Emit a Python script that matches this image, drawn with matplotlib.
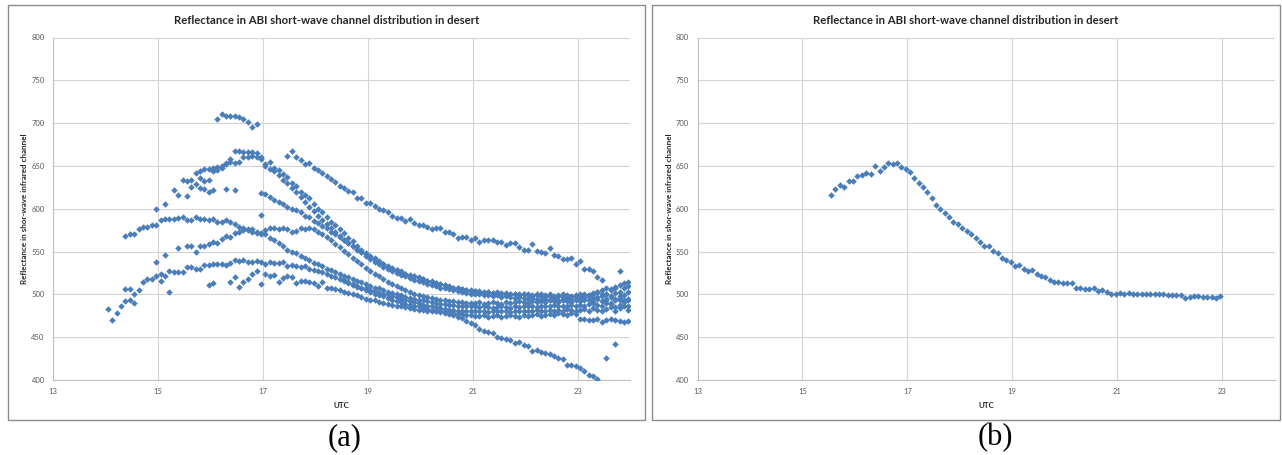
import numpy as np
import matplotlib
matplotlib.use("Agg")
import matplotlib.pyplot as plt
from matplotlib.patches import Rectangle

# ---------------- data ----------------
# UTC sampling times (hours)
utc = [
    14.05, 14.13, 14.22, 14.30, 14.38, 14.47, 14.55, 14.63, 14.72, 14.80, 14.88, 14.97,
    15.05, 15.13, 15.22, 15.30, 15.38, 15.47, 15.55, 15.63, 15.72, 15.80, 15.88, 15.97,
    16.05, 16.13, 16.22, 16.30, 16.38, 16.47, 16.55, 16.63, 16.72, 16.80, 16.88, 16.97,
    17.05, 17.13, 17.22, 17.30, 17.38, 17.47, 17.55, 17.63, 17.72, 17.80, 17.88, 17.97,
    18.05, 18.13, 18.22, 18.30, 18.38, 18.47, 18.55, 18.63, 18.72, 18.80, 18.88, 18.97,
    19.05, 19.13, 19.22, 19.30, 19.38, 19.47, 19.55, 19.63, 19.72, 19.80, 19.88, 19.97,
    20.05, 20.13, 20.22, 20.30, 20.38, 20.47, 20.55, 20.63, 20.72, 20.80, 20.88, 20.97,
    21.05, 21.13, 21.22, 21.30, 21.38, 21.47, 21.55, 21.63, 21.72, 21.80, 21.88, 21.97,
    22.05, 22.13, 22.22, 22.30, 22.38, 22.47, 22.55, 22.63, 22.72, 22.80, 22.88, 22.97,
    23.05, 23.13, 23.22, 23.30, 23.38, 23.47, 23.55, 23.63, 23.72, 23.80, 23.88, 23.97,
]

# Panel (a): several days, each starting at the given UTC time
day_arc_start = 16.13
day_arc = [705, 711, 708, 708, 708, 707, 705, 701, 696, 699]

day_b_start = 14.97
day_b = [600, None, 606, None, 622, None, 634, 632, 634, 642, 644, 646, 646,
         648, 649, 650, 652, 658, 667, 668, 666, 666, 666, 665, 660,
         650, 646, 648, 645, 641, 637, 630, 627, 620, 616, 612, 606,
         600, 596, 590, 585, 581, 576, 572, 566, 562, 557, 552, 548,
         545, 542, 539, 536, 533, 531, 528, 527, 524, 523, 521, 519,
         518, 516, 516, 513, 512, 511, 510, 508, 508, 506, 505, 505,
         504, 504, 503, 503, 502, 503, 501, 502, 501, 500, 501, 500,
         500, 499, 501, 500, 499, 500, 498, 499, 500, 499, 498, 499,
         500, 501, 499, 502, 503, 505, 500, 497, 495, 498, 493, 495]

day_c_start = 15.38
day_c = [616, None, None, 625, 629, 636, 632, 634,
         644, 645, 648, 653, 655, 654, 655, 661, 661, 662, 660, 658, 652, 655,
         644, 640, 634, 630, 624, 620, 614, 608, 602, 597,
         592, 587, 582, 577, 573, 568, 564, 560, 556, 552, 549, 545,
         541, 538, 535, 532, 530, 527, 525, 523, 521, 519, 517, 516,
         514, 512, 511, 510, 508, 507, 506, 505, 504, 503, 502, 501,
         500, 500, 499, 499, 498, 499, 497, 498, 497, 496, 497, 496,
         495, 496, 495, 494, 495, 494, 495, 493, 494, 495, 494, 495,
         495, 496, 498, 496, 497, 500, 495, 498, 502, 494, 499, 503]

day_d_start = 15.55
day_d = [615, None, None, 624, 623, 620,
         622, None, None, 623, None, 622, None, None, None, None, None, 618,
         617, 614, 610, 608, 605, 602, 600, 598, 596, 592, 590, 586,
         583, 580, 577, 573, 570, 567, 563, 560, 557, 553, 550, 547,
         543, 540, 537, 535, 532, 530, 528, 526, 524, 522, 521, 520,
         518, 516, 515, 513, 512, 511, 509, 508, 507, 506, 505, 504,
         504, 503, 502, 503, 502, 501, 502, 500, 501, 500, 499, 500,
         499, 498, 499, 498, 497, 498, 497, 498, 497, 496, 497, 498,
         498, 497, 499, 501, 503, 498, 500, 505, 509, 503, 507, 510]

day_e_start = 14.38
day_e = [568, 571, 570, 576, 579, 579, 581, 581,
         587, 588, 588, 588, 589, 590, 587, 587, 590, 588, 588, 587,
         588, 585, 585, 587, 584, 582, 579, 577, 576, 576, 573, 572,
         570, 566, 563, 560, 557, 552, 550, 548, 545, 542, 540, 537,
         535, 533, 530, 528, 526, 524, 522, 520, 518, 516, 514, 512,
         510, 508, 507, 505, 503, 502, 500, 499, 497, 496, 495, 494,
         493, 492, 491, 490, 489, 489, 488, 488, 487, 487, 486, 486,
         486, 485, 486, 485, 484, 485, 486, 485, 484, 486, 485, 486,
         487, 486, 485, 486, 487, 486, 488, 487, 486, 487, 488, 487,
         488, 487, 489, 490, 488, 486, 490, 489, 485, 488, 491, 487]

day_f_start = 14.97
day_f = [538,
         None, 546, None, None, 554, None, 556, 556, 550, 556, 556, 559,
         561, 560, 565, 568, 567, 572, 573, 575, 575, 573, 572, 570,
         575, 578, 577, 576, 577, 576, 573, 574, 577, 576, 577, 576,
         573, 570, 567, 563, 559, 555, 551, 547, 543, 539, 535, 531,
         527, 524, 521, 518, 515, 512, 510, 507, 505, 503, 501, 499,
         498, 497, 496, 495, 494, 493, 492, 492, 491, 491, 490, 490,
         490, 491, 489, 490, 491, 490, 489, 491, 490, 491, 492, 491,
         490, 492, 491, 492, 491, 493, 492, 491, 493, 492, 491, 493,
         492, 494, 493, 491, 495, 492, 494, 490, 493, 496, 492, 494]

day_g_start = 14.05
day_g = [483, 470, 478, 487, 492, 494, 490, 505, 514, 518, 518, 521,
         524, 522, 527, 526, 526, 526, 532, 532, 530, 530, 534, 534,
         536, 536, 535, 534, 537, 540, 539, 540, 538, 538, 539, 538,
         536, 538, 537, 537, 538, 533, 534, 533, 532, 533, 530, 528,
         527, 526, 524, 522, 520, 518, 516, 513, 511, 509, 507, 505,
         503, 501, 499, 498, 496, 494, 492, 491, 489, 488, 487, 486,
         484, 483, 482, 481, 480, 479, 478, 478, 477, 477, 476, 476,
         475, 475, 476, 474, 475, 476, 474, 475, 476, 475, 474, 476,
         475, 476, 477, 475, 476, 477, 476, 478, 477, 476, 478, 477,
         471, 471, 470, 470, 471, 468, 470, 471, 470, 469, 468, 469]

day_h_start = 14.38
day_h = [506, 506, 500, None, None, None, None, None,
         516, None, 503, None, None, None, None, None, None, None, None, 511,
         513, None, None, None, 514, 520, 509, 515, 518, 524, 527, 512,
         524, 521, 523, 515, 519, 522, 520, 513, 516, 516, 515, 513,
         510, 514, 508, 507, 506, 505, 503, 502, 500, 499, 497, 495,
         494, 493, 491, 490, 489, 488, 487, 486, 485, 484, 483, 482,
         482, 481, 480, 480, 479, 478, 477, 476, 474, 472, 469, 466,
         464, 459, 457, 456, 455, 450, 449, 448, 447, 443, 444, 441,
         440, 434, 435, 433, 431, 430, 428, 426, 425, 417, 418, 416,
         414, 410, 406, 405, 401, None, 426, None, 442]

day_i_start = 17.47
day_i = [662, 667, 660, 657, 652, 653, 648,
         645, 642, 638, 635, 631, 626, 624, 621, 620, 612, 612, 607,
         607, 603, 600, 598, 596, 591, 589, 589, 586, 588, 583, 581,
         581, 579, 576, 578, 578, 573, 573, 570, 566, 567, 567, 563,
         566, 561, 564, 563, 564, 561, 561, 558, 560, 560, 555, 552,
         552, 559, 551, 550, 548, 554, 546, 545, 541, 541, 543, 536,
         539, 530, 530, 527, 520, 517, 507, 506, 508, 511, 513, 514]

day_j_start = 18.55
day_j = [517, 515, 512, 510, 508, 507,
         505, 504, 502, 501, 500, 498, 497, 495, 494, 492, 491, 490,
         488, 487, 486, 485, 484, 483, 482, 482, 481, 481, 480, 481,
         480, 481, 480, 479, 481, 480, 481, 480, 479, 480, 481, 480,
         481, 480, 482, 481, 480, 482, 481, 482, 481, 483, 482, 481,
         482, 483, 481, 484, 482, 480, 483, 485, 481, 484, 486, 482]

stray_utc = [16.97, 23.80]
stray_val = [593, 527]

days_a = [
    (day_arc_start, day_arc), (day_b_start, day_b), (day_c_start, day_c),
    (day_d_start, day_d), (day_e_start, day_e), (day_f_start, day_f),
    (day_g_start, day_g), (day_h_start, day_h), (day_i_start, day_i),
    (day_j_start, day_j),
]

# Panel (b): one day
day_single_start = 15.55
day_single = [616, 623, 628, 625, 632, 632, 638, 639, 642, 641,
              650, 644, 649, 653, 652, 654, 649, 647, 643, 636,
              630, 625, 619, 613, 604, 600, 595, 590, 585, 582,
              577, 574, 570, 566, 561, 556, 556, 551, 548, 543,
              540, 538, 533, 534, 530, 527, 529, 524, 521, 520,
              517, 515, 514, 513, 513, 513, 508, 508, 506, 506,
              507, 504, 505, 503, 500, 501, 502, 500, 502, 501,
              501, 501, 501, 500, 501, 501, 500, 499, 499, 499,
              499, 496, 497, 498, 498, 497, 497, 497, 496, 498]

x_ticks = [13, 15, 17, 19, 21, 23]
y_ticks = [400, 450, 500, 550, 600, 650, 700, 750, 800]
title_text = "Reflectance in ABI short-wave channel distribution in desert"
ylabel_text = "Reflectance in shor-wave infrared channel"
xlabel_text = "UTC"
panel_labels = ["(a)", "(b)"]

# ---------------- drawing ----------------
W, H = 1282, 455
fig = plt.figure(figsize=(W / 100, H / 100), dpi=100)
fig.patch.set_facecolor("white")

UI_FONT = ["Lato", "DejaVu Sans"]
PT_COLOR = "#4A7EBB"


def series_xy(start, vals):
    i0 = utc.index(start)
    t = np.array(utc[i0:i0 + len(vals)], dtype=float)
    v = np.array([np.nan if x is None else x for x in vals], dtype=float)
    return t, v


def make_panel(px_left, px_right, ax_left, ax_right):
    # chart-area border
    fig.add_artist(Rectangle((px_left / W, 1 - 420 / H), (px_right - px_left) / W, (420 - 5) / H,
                             transform=fig.transFigure, fill=False, ec="#8c8c8c", lw=1.0))
    ax = fig.add_axes([ax_left / W, 1 - 380 / H, (ax_right - ax_left) / W, (380 - 37.5) / H])
    ax.set_xlim(13, 24)
    ax.set_ylim(400, 800)
    ax.set_xticks(x_ticks)
    ax.set_yticks(y_ticks)
    ax.grid(True, color="#d4d4d4", lw=0.8)
    ax.set_axisbelow(True)
    for s in ["top", "right"]:
        ax.spines[s].set_visible(False)
    for s in ["left", "bottom"]:
        ax.spines[s].set_color("#bfbfbf")
        ax.spines[s].set_linewidth(0.8)
    ax.tick_params(length=0, labelsize=5.5, labelcolor="#595959", pad=6)
    for lab in ax.get_xticklabels() + ax.get_yticklabels():
        lab.set_family(UI_FONT)
    cx = (px_left + px_right) / 2
    fig.text(cx / W, 1 - 20 / H, title_text, ha="center", va="center",
             fontsize=8.2, fontweight="bold", color="#262626", family=UI_FONT)
    fig.text((px_left + 17) / W, 1 - 209 / H, ylabel_text, ha="center", va="center",
             rotation=90, fontsize=5.8, fontweight="bold", color="#262626", family=UI_FONT)
    fig.text(((ax_left + ax_right) / 2) / W, 1 - 405 / H, xlabel_text, ha="center", va="center",
             fontsize=5.7, fontweight="bold", color="#262626", family=UI_FONT)
    return ax


ax_a = make_panel(8, 645, 53, 630)
ax_b = make_panel(652, 1280, 697.5, 1274.5)

MS = 11
for start, vals in days_a:
    t, v = series_xy(start, vals)
    ax_a.scatter(t, v, s=MS, marker="D", color=PT_COLOR, linewidths=0, zorder=3)
ax_a.scatter(stray_utc, stray_val, s=MS, marker="D", color=PT_COLOR, linewidths=0, zorder=3)

t, v = series_xy(day_single_start, day_single)
ax_b.scatter(t, v, s=MS, marker="D", color=PT_COLOR, linewidths=0, zorder=3)

fig.text(345 / W, 1 - 438 / H, panel_labels[0], ha="center", va="center",
         fontsize=22, family=["Liberation Serif"], color="black")
fig.text(995 / W, 1 - 438 / H, panel_labels[1], ha="center", va="center",
         fontsize=22, family=["Liberation Serif"], color="black")

fig.savefig("out.png", dpi=100, facecolor="white")
